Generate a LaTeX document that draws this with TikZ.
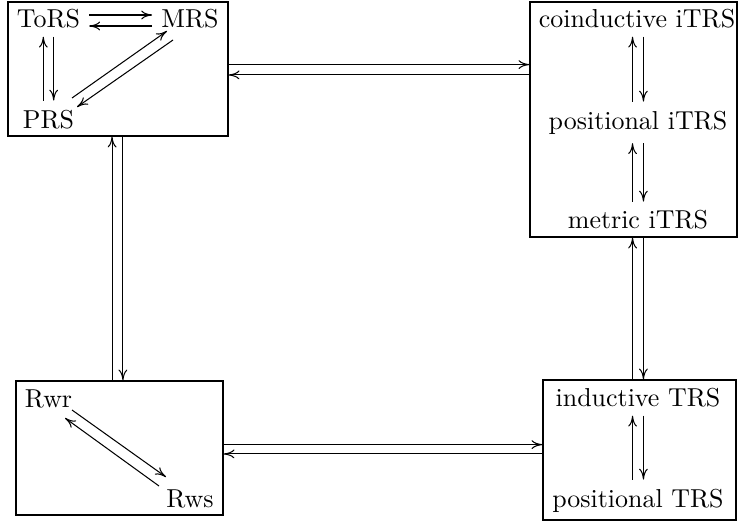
\documentclass[tikz,border=0pt]{standalone}
\usepackage{tikz}
\usetikzlibrary{positioning,fit,arrows.meta}

\begin{document}
\begin{tikzpicture}[x=0.01355cm,y=-0.01355cm,
      lbl/.style={anchor=base},
      grp/.style={draw,rectangle,inner sep=0pt},
      arr/.style={-{To[length=4.2pt,width=3.4pt]}}]
    \useasboundingbox (0,0) rectangle (738,521);
    % the four groups
    \node[grp,fit={(8,2) (228,136)}] (A) {};
    \node[grp,fit={(530,2) (737,237)}] (B) {};
    \node[grp,fit={(16,381) (223,515)}] (C) {};
    \node[grp,fit={(543,380) (736,520)}] (D) {};
    % labels inside the groups
    \node[lbl] (tors) at (48.5,27) {ToRS};
    \node[lbl] (mrs) at (190,27) {MRS};
    \node[lbl] (prs) at (48.5,128) {PRS};
    \node[lbl] (citrs) at (637,27) {coinductive iTRS};
    \node[lbl] (pitrs) at (638,129) {positional iTRS};
    \node[lbl] (mitrs) at (638,229) {metric iTRS};
    \node[lbl] (itrs) at (638,406) {inductive TRS};
    \node[lbl] (ptrs) at (638,507) {positional TRS};
    \node[lbl] (rwr) at (48.5,407) {Rwr};
    \node[lbl] (rws) at (190,507) {Rws};
    % arrows inside A
    \draw[arr] ([shift={(0,-12)}]tors.base east) -- ([shift={(0,-12)}]tors.base east -| mrs.west);
    \draw[arr] ([shift={(0,-1)}]mrs.base west) -- ([shift={(0,-1)}]mrs.base west -| tors.east);
    \draw[arr] ([xshift=-2pt]prs.north) -- ([xshift=-2pt]prs.north |- tors.south);
    \draw[arr] ([xshift=2pt]prs.north |- tors.south) -- ([xshift=2pt]prs.north);
    \draw[arr] ([shift={(23.5,-30)}]prs.base) -- ([shift={(-23,4)}]mrs.base);
    \draw[arr] ([shift={(-17,13)}]mrs.base) -- ([shift={(28.5,-21)}]prs.base);
    % arrows inside B and D
    \foreach \a/\b in {citrs/pitrs,pitrs/mitrs,itrs/ptrs} {
      \draw[arr] ([xshift=-2.1pt]\b.north) -- ([xshift=-2.1pt]\b.north |- \a.south);
      \draw[arr] ([xshift=2.1pt]\b.north |- \a.south) -- ([xshift=2.1pt]\b.north);
    }
    % arrows inside C
    \draw[arr] ([shift={(23.5,3)}]rwr.base) -- ([shift={(-24,-30)}]rws.base);
    \draw[arr] ([shift={(-31,-21)}]rws.base) -- ([shift={(16.5,11)}]rwr.base);
    % arrows between the groups
    \draw[arr] ([yshift=1.7pt]A.east) -- ([yshift=1.7pt]A.east -| B.west);
    \draw[arr] ([yshift=-2.3pt]A.east -| B.west) -- ([yshift=-2.3pt]A.east);
    \draw[arr] ([yshift=1.3pt]C.east) -- ([yshift=1.3pt]C.east -| D.west);
    \draw[arr] ([yshift=-2.3pt]C.east -| D.west) -- ([yshift=-2.3pt]C.east);
    \draw[arr] ([xshift=-2.3pt]A.south |- C.north) -- ([xshift=-2.3pt]A.south);
    \draw[arr] ([xshift=1.9pt]A.south) -- ([xshift=1.9pt]A.south |- C.north);
    \draw[arr] ([xshift=-2.1pt]mitrs.south |- D.north) -- ([xshift=-2.1pt]mitrs.south |- B.south);
    \draw[arr] ([xshift=2.1pt]mitrs.south |- B.south) -- ([xshift=2.1pt]mitrs.south |- D.north);
\end{tikzpicture}
\end{document}
